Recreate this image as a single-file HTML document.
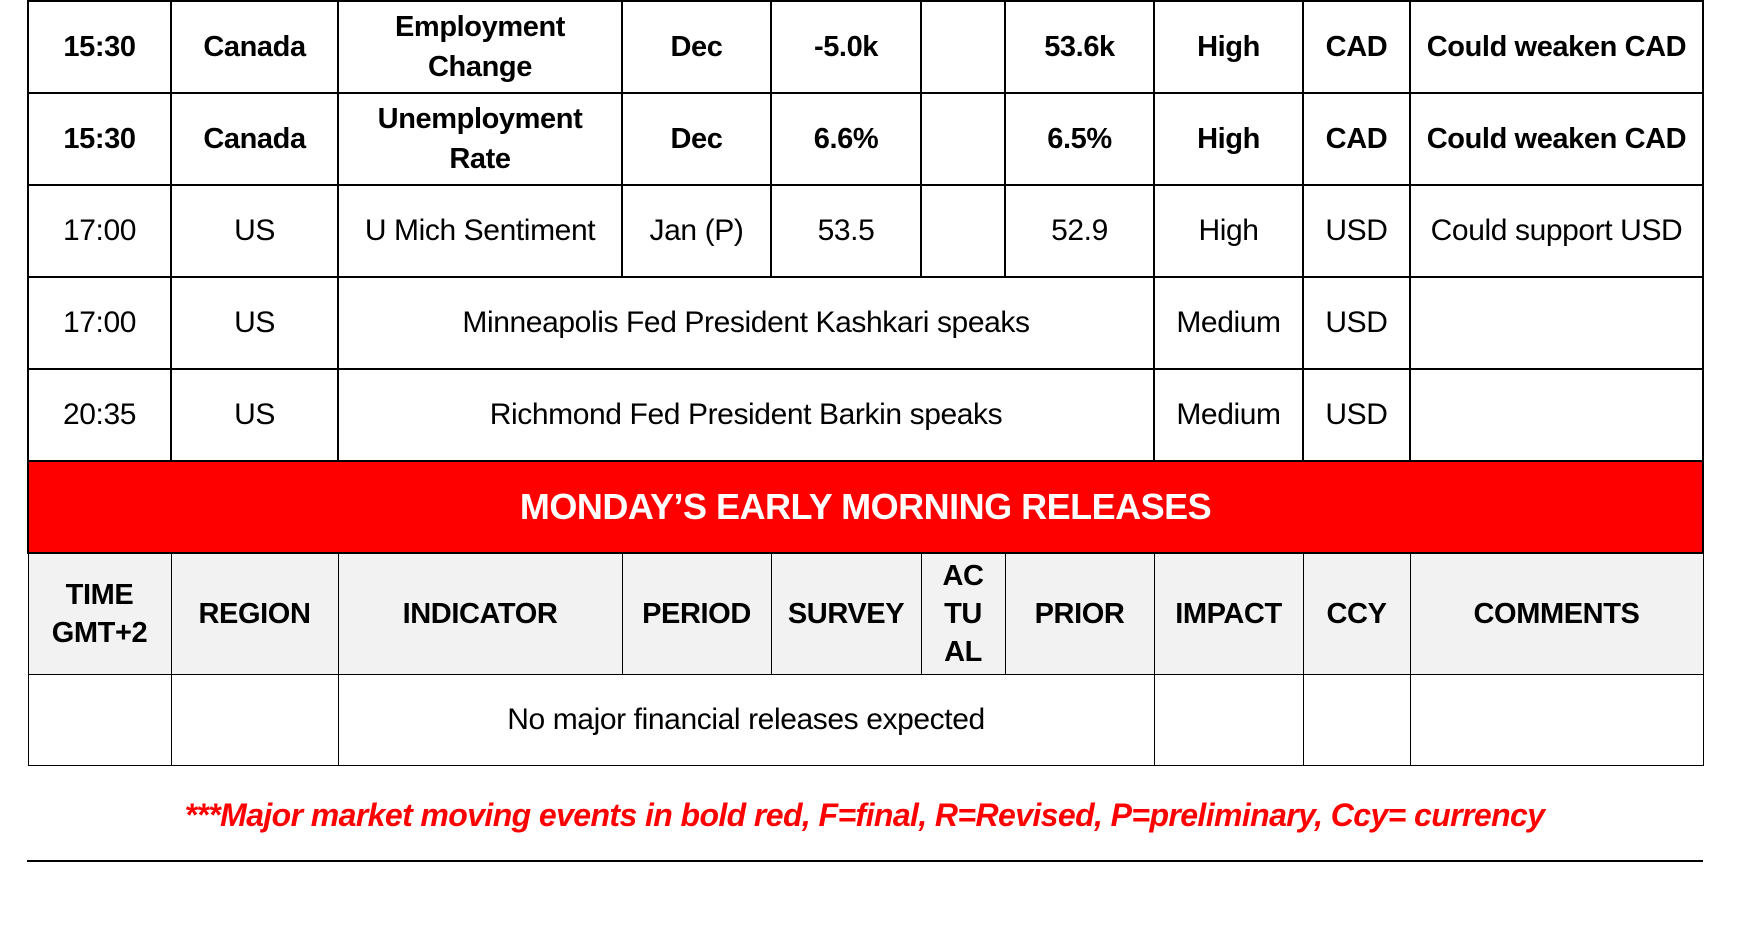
<!DOCTYPE html>
<html><head><meta charset="utf-8"><style>
body{margin:0;width:1737px;height:927px;background:#fff;position:relative;overflow:hidden;font-family:"Liberation Sans",Arial,sans-serif;}
table{position:absolute;left:27px;top:0;border-collapse:collapse;table-layout:fixed;width:1675px;}
td{border:2px solid #000;text-align:center;vertical-align:middle;font-size:30px;line-height:40px;padding:0;color:#000;letter-spacing:-0.4px;overflow:hidden;white-space:nowrap;}
tr.r td{height:90px;}
.b td{font-weight:bold;font-size:29px;}
.red td{background:#ff0000;color:#fff;font-weight:bold;font-size:36px;height:90px;letter-spacing:-0.5px;}
.hd td{background:#f2f2f2;font-weight:bold;font-size:29px;height:120px;border-width:1px;line-height:38px;}
.last td{height:90px;border-width:1px;}
.foot{position:absolute;left:27px;width:1675px;top:797px;text-align:center;color:#f00;font-weight:bold;font-style:italic;font-size:32px;letter-spacing:-0.6px;}
.line{position:absolute;left:27px;width:1676px;top:860px;height:2px;background:#000;}
</style></head><body>
<table>
<colgroup><col style="width:143px"><col style="width:167px"><col style="width:284px"><col style="width:149px"><col style="width:150px"><col style="width:84px"><col style="width:149px"><col style="width:149px"><col style="width:107px"><col style="width:293px"></colgroup>
<tr class="r b"><td>15:30</td><td>Canada</td><td>Employment<br>Change</td><td>Dec</td><td>-5.0k</td><td></td><td>53.6k</td><td>High</td><td>CAD</td><td>Could weaken CAD</td></tr>
<tr class="r b"><td>15:30</td><td>Canada</td><td>Unemployment<br>Rate</td><td>Dec</td><td>6.6%</td><td></td><td>6.5%</td><td>High</td><td>CAD</td><td>Could weaken CAD</td></tr>
<tr class="r"><td>17:00</td><td>US</td><td>U Mich Sentiment</td><td>Jan (P)</td><td>53.5</td><td></td><td>52.9</td><td>High</td><td>USD</td><td>Could support USD</td></tr>
<tr class="r"><td>17:00</td><td>US</td><td colspan="5">Minneapolis Fed President Kashkari speaks</td><td>Medium</td><td>USD</td><td></td></tr>
<tr class="r"><td>20:35</td><td>US</td><td colspan="5">Richmond Fed President Barkin speaks</td><td>Medium</td><td>USD</td><td></td></tr>
<tr class="red"><td colspan="10">MONDAY’S EARLY MORNING RELEASES</td></tr>
<tr class="hd"><td>TIME<br>GMT+2</td><td>REGION</td><td>INDICATOR</td><td>PERIOD</td><td>SURVEY</td><td>AC<br>TU<br>AL</td><td>PRIOR</td><td>IMPACT</td><td>CCY</td><td>COMMENTS</td></tr>
<tr class="last"><td></td><td></td><td colspan="5">No major financial releases expected</td><td></td><td></td><td></td></tr>
</table>
<div class="foot">***Major market moving events in bold red, F=final, R=Revised, P=preliminary, Ccy= currency</div>
<div class="line"></div>
</body></html>
